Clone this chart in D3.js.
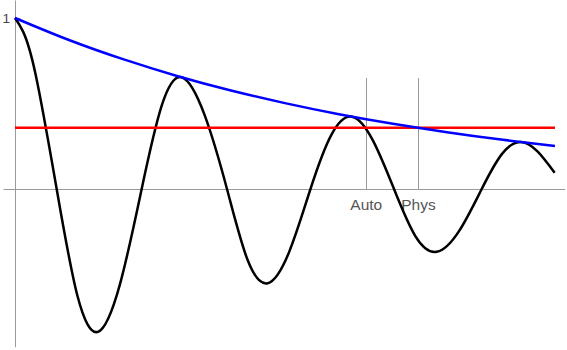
<!DOCTYPE html>
<html>
<head>
<meta charset="utf-8">
<script src="https://cdn.jsdelivr.net/npm/d3@7"></script>
<style>
  html, body { margin: 0; padding: 0; background: #fff; }
  svg { display: block; font-family: "Liberation Sans", Arial, sans-serif; }
</style>
</head>
<body>
<svg id="chart" width="567" height="350"></svg>
<script>
// ---- data ----
const oscT = [0, 0.15, 0.385, 0.772, 1.155, 1.537, 1.942, 2.346, 2.717, 3.087, 3.507, 3.926, 4.303, 4.680, 5.076, 5.472, 5.856, 6.241, 6.630, 7.019, 7.414, 7.809, 8.226, 8.643, 9.016, 9.357, 9.676, 9.994];
const oscV = [1.000, 0.920, 0.665, 0.000, -0.623, -0.835, -0.559, 0.000, 0.487, 0.653, 0.436, 0.000, -0.411, -0.551, -0.369, 0.000, 0.315, 0.423, 0.283, 0.000, -0.275, -0.367, -0.245, 0.000, 0.204, 0.275, 0.220, 0.095];

const envT = [0, 1, 2, 3, 4, 5, 6, 7, 8, 9, 10];
const envV = [1.000, 0.871, 0.759, 0.661, 0.576, 0.502, 0.437, 0.381, 0.332, 0.289, 0.252];

const levelT = [0, 10];
const levelV = 0.358;

const markerNames = ["Auto", "Phys"];
const markerT = [6.506, 7.472];
const markerTop = 0.647;

const yTicks = [1];
const xExtent = [-0.222, 10.18];
const yExtent = [-0.922, 1.105];

// ---- drawing ----
const svg = d3.select("#chart");
const x = d3.scaleLinear().domain(xExtent).range([3, 564.7]);
const y = d3.scaleLinear().domain(yExtent).range([346.7, 0]);

const axisColor = "#9a9a9a";
const textColor = "#555";

// x axis (no ticks)
const gx = svg.append("g")
  .attr("transform", `translate(0,${y(0)})`)
  .call(d3.axisBottom(x).tickValues([]).tickSizeOuter(0));
gx.select(".domain").attr("stroke", axisColor);

// y axis
const gy = svg.append("g")
  .attr("transform", `translate(${x(0)},0)`)
  .call(d3.axisLeft(y).tickValues(yTicks).tickSizeInner(-6).tickSizeOuter(0).tickPadding(5).tickFormat(d3.format("d")));
gy.select(".domain").attr("stroke", axisColor);
gy.selectAll(".tick line").attr("stroke", "#c8c8c8");
gy.selectAll(".tick text").attr("fill", "#444").attr("font-size", 13.5)
  .attr("font-family", "Liberation Sans, Arial, sans-serif");

// marker vertical lines
svg.append("g").selectAll("line").data(markerT).join("line")
  .attr("x1", d => x(d)).attr("x2", d => x(d))
  .attr("y1", y(markerTop)).attr("y2", y(0))
  .attr("stroke", axisColor).attr("stroke-width", 1)
  .attr("shape-rendering", "crispEdges");

svg.append("g").selectAll("text").data(markerNames).join("text")
  .attr("x", (d, i) => x(markerT[i]))
  .attr("y", y(0) + 20.5)
  .attr("text-anchor", "middle")
  .attr("font-size", 15.5)
  .attr("fill", textColor)
  .text(d => d);

// black oscillation
const oscLine = d3.line().x((d, i) => x(oscT[i])).y(d => y(d)).curve(d3.curveNatural);
svg.append("path").attr("d", oscLine(oscV))
  .attr("fill", "none").attr("stroke", "#000").attr("stroke-width", 2.5)
  .attr("stroke-linejoin", "round");

// red level line
svg.append("line")
  .attr("x1", x(levelT[0])).attr("x2", x(levelT[1]))
  .attr("y1", y(levelV)).attr("y2", y(levelV))
  .attr("stroke", "#ff0000").attr("stroke-width", 2.5);

// blue envelope
const envLine = d3.line().x((d, i) => x(envT[i])).y(d => y(d)).curve(d3.curveNatural);
svg.append("path").attr("d", envLine(envV))
  .attr("fill", "none").attr("stroke", "#0000ff").attr("stroke-width", 2.5);
</script>
</body>
</html>
